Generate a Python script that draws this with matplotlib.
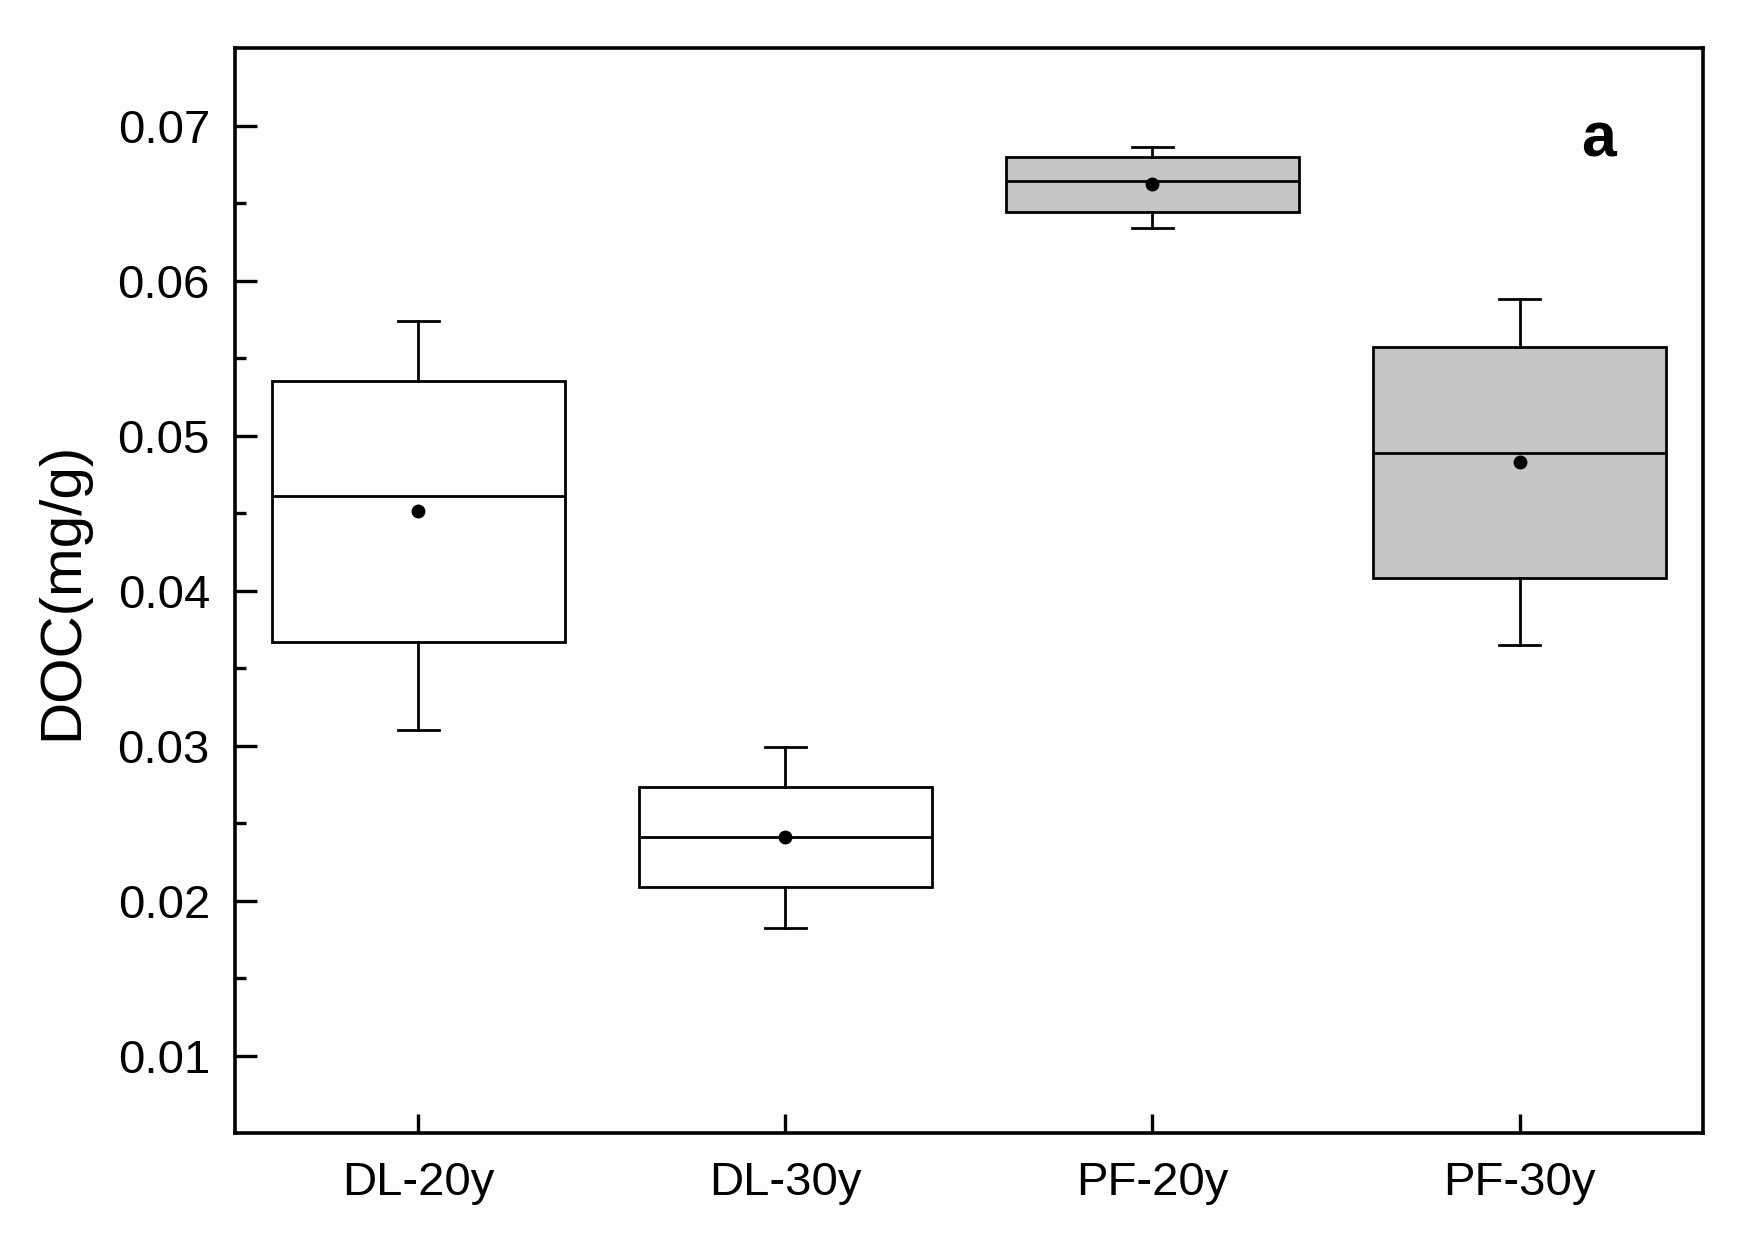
#!/usr/bin/env python3
"""DOC box plot, panel a."""
import matplotlib
matplotlib.use('Agg')
import matplotlib.pyplot as plt

plt.rcParams['font.family'] = ['Liberation Sans', 'DejaVu Sans']

# box statistics (mg/g)
groups = ['DL-20y', 'DL-30y', 'PF-20y', 'PF-30y']
whisker_low = [0.0310, 0.0182, 0.0634, 0.0365]
q1 = [0.0367, 0.0209, 0.0644, 0.0408]
median = [0.0461, 0.0241, 0.0664, 0.0489]
mean = [0.0451, 0.0241, 0.0662, 0.0483]
q3 = [0.0535, 0.0273, 0.0680, 0.0557]
whisker_high = [0.0574, 0.0299, 0.0686, 0.0588]
fill_colors = ['white', 'white', '#c6c6c6', '#c6c6c6']

stats = []
for i, g in enumerate(groups):
    stats.append(dict(label=g, whislo=whisker_low[i], q1=q1[i], med=median[i],
                      mean=mean[i], q3=q3[i], whishi=whisker_high[i], fliers=[]))

fig = plt.figure(figsize=(17.53, 12.44), dpi=100, facecolor='#fdfdfd')
ax = fig.add_axes([0.134, 0.0892, 0.8375, 0.8722])
ax.set_facecolor('#fdfdfd')

pos = list(range(1, len(groups) + 1))
bp = ax.bxp(stats, positions=pos, widths=0.8, patch_artist=True, showmeans=True,
            capwidths=0.11,
            boxprops=dict(linewidth=2.0, edgecolor='black'),
            medianprops=dict(color='black', linewidth=2.0),
            whiskerprops=dict(color='black', linewidth=2.0),
            capprops=dict(color='black', linewidth=2.0),
            meanprops=dict(marker='o', markerfacecolor='black', markeredgecolor='black',
                           markersize=9))
for patch, c in zip(bp['boxes'], fill_colors):
    patch.set_facecolor(c)

ax.set_xlim(0.5, 4.5)
ax.set_ylim(0.005, 0.075)
ax.set_yticks([0.01, 0.02, 0.03, 0.04, 0.05, 0.06, 0.07])
ax.set_yticks([0.015, 0.025, 0.035, 0.045, 0.055, 0.065], minor=True)
ax.set_yticklabels(['0.01', '0.02', '0.03', '0.04', '0.05', '0.06', '0.07'])
ax.set_xticks(pos)
ax.set_xticklabels(groups)

ax.tick_params(axis='both', which='both', direction='in', top=False, right=False,
               labelsize=34, width=2.4)
ax.tick_params(axis='y', which='major', length=16, pad=18)
ax.tick_params(axis='y', which='minor', length=8)
ax.tick_params(axis='x', which='major', length=14, pad=20)
for s in ax.spines.values():
    s.set_linewidth(2.6)

ax.set_ylabel('DOC(mg/g)', fontsize=42, labelpad=20)
ax.text(0.929, 0.915, 'a', transform=ax.transAxes, fontsize=45, fontweight='bold',
        ha='center', va='center')

plt.savefig('out.png', dpi=100, facecolor=fig.get_facecolor())
